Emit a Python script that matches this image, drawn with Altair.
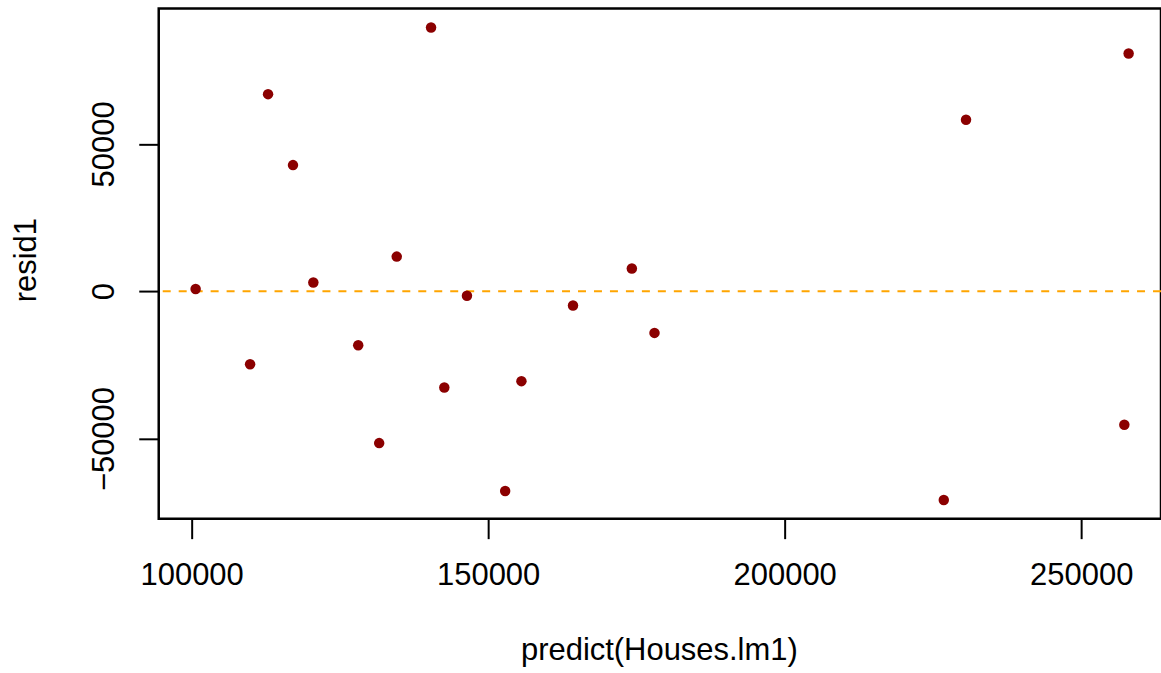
import altair as alt
import pandas as pd

predicted = [100673, 109856, 112884, 117089, 120520, 128089, 131622, 134582,
             140368, 142605, 146423, 152866, 155607, 164304, 174227, 178045,
             226823, 230574, 257267, 257990]
residuals = [780, -24752, 66885, 42816, 2949, -18306, -51528, 11763,
             89496, -32646, -1526, -67800, -30510, -4848, 7695, -14136,
             -70851, 58206, -45324, 80682]
x_ticks = [100000, 150000, 200000, 250000]
y_ticks = [-50000, 0, 50000]
x_domain = [94450, 263450]
y_domain = [-77186, 95932]

df = pd.DataFrame({"predict": predicted, "resid1": residuals})
ref_df = pd.DataFrame({"zero": [0]})

FONT = "Liberation Sans"
W, H = 1004, 511

xscale = alt.Scale(domain=x_domain, nice=False, zero=False)
yscale = alt.Scale(domain=y_domain, nice=False, zero=False)

points = alt.Chart(df).mark_circle(size=110, color="#8B0000", opacity=1).encode(
    x=alt.X("predict:Q", scale=xscale,
            axis=alt.Axis(values=x_ticks, format="d", title="predict(Houses.lm1)",
                          grid=False, domain=False, tickSize=20, tickWidth=2,
                          tickColor="black", labelFontSize=31, labelFont=FONT,
                          labelColor="black", labelPadding=22,
                          labelBaseline="top", labelAlign="center",
                          titleFont=FONT, titleFontSize=31, titleFontWeight="normal",
                          titleColor="black", titleX=501, titleY=141,
                          titleBaseline="alphabetic", titleAlign="center")),
    y=alt.Y("resid1:Q", scale=yscale,
            axis=alt.Axis(values=y_ticks, format="d", title="resid1",
                          grid=False, domain=False, tickSize=20, tickWidth=2,
                          tickColor="black", labelFontSize=31, labelFont=FONT,
                          labelColor="black", labelPadding=25, labelAngle=270,
                          labelBaseline="alphabetic", labelAlign="center",
                          titleFont=FONT, titleFontSize=31, titleFontWeight="normal",
                          titleColor="black", titleAngle=270, titleX=-123,
                          titleY=H / 2 - 4,
                          titleBaseline="alphabetic", titleAlign="center")),
)

rule = alt.Chart(ref_df).mark_rule(color="#FFA500", strokeWidth=2,
                                    strokeDash=[8, 8]).encode(
    y=alt.Y("zero:Q", scale=yscale)
)

chart = alt.layer(rule, points).properties(
    width=W, height=H,
    autosize=alt.AutoSizeParams(type="none"),
    padding={"left": 159, "top": 8, "right": 0, "bottom": 154},
).configure(background="white").configure_view(stroke="black", strokeWidth=2.5)

chart.save("out.html", embed_options={"renderer": "svg", "actions": False})
